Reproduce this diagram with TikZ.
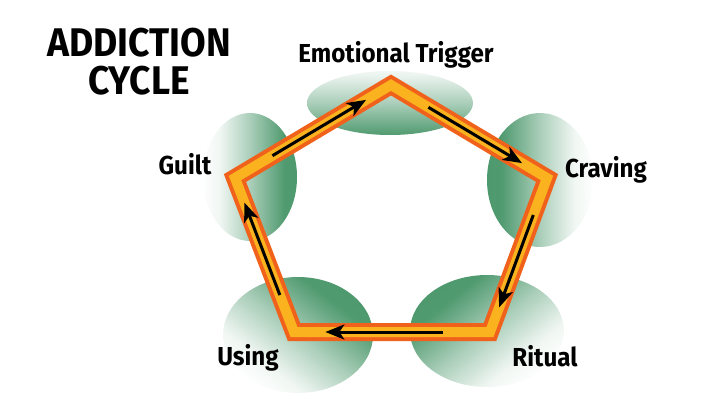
\documentclass[tikz,border=0pt]{standalone}
\usepackage{fontspec}
\setmainfont{Fira Sans}[FakeStretch=0.93]
\usetikzlibrary{arrows.meta,calc}
\definecolor{blobgreen}{RGB}{66,146,100}
\definecolor{bandorange}{RGB}{240,98,28}
\definecolor{bandyellow}{RGB}{250,178,30}
\pgfdeclareverticalshading{blobfade}{100bp}{color(0bp)=(blobgreen); color(25bp)=(blobgreen!92); color(50bp)=(blobgreen!45); color(72bp)=(blobgreen!10); color(84bp)=(white); color(100bp)=(white)}
\pgfdeclareverticalshading{blobfadetilt}{100bp}{color(0bp)=(blobgreen); color(32bp)=(blobgreen!92); color(50bp)=(blobgreen!45); color(66bp)=(blobgreen!8); color(76bp)=(white); color(100bp)=(white)}

\begin{document}
\begin{tikzpicture}[x=1pt,y=-1pt,
  blob/.style={shading=blobfadetilt,shading angle=#1},
  stagelabel/.style={font=\bfseries\fontsize{26}{30}\selectfont,anchor=base,inner sep=0},
  flow/.style={line width=3pt,-{Stealth[length=19pt,width=15pt,inset=5pt]}}]
\useasboundingbox (0,0) rectangle (720,405);
% corners of the cycle (centre line of the band)
\coordinate (A) at (391,85);
\coordinate (B) at (547,178);
\coordinate (C) at (490,332);
\coordinate (D) at (294,332);
\coordinate (E) at (235,178);
% green shadows behind the corners
\shade[shading=blobfade] (390,103) ellipse [x radius=83, y radius=32];
\shade[blob=270] (540,180) ellipse [x radius=53, y radius=67];
\shade[blob=219] (487,331) ellipse [x radius=77, y radius=56];
\shade[blob=142] (298,335) ellipse [x radius=75, y radius=58];
\shade[blob=90] (250,177) ellipse [x radius=47, y radius=64];
% the band
\draw[bandorange,line width=18pt,line join=miter] (A) -- (B) -- (C) -- (D) -- (E) -- cycle;
\draw[bandyellow,line width=10pt,line join=miter] (A) -- (B) -- (C) -- (D) -- (E) -- cycle;
% arrows
\foreach \p/\q in {E/A,A/B,B/C,C/D,D/E}
  \draw[flow] ($(\p)!0.24!(\q)$) -- ($(\p)!0.84!(\q)$);
% labels
\node[font=\bfseries\fontsize{40}{38}\selectfont,align=center,anchor=north,inner sep=0] (title) at (139,28) {ADDICTION\\CYCLE};
\node[stagelabel] (trigger) at (396,62) {Emotional Trigger};
\node[stagelabel] (craving) at (606,177) {Craving};
\node[stagelabel] (ritual) at (545,366) {Ritual};
\node[stagelabel] (using) at (248,365) {Using};
\node[stagelabel] (guilt) at (185,174) {Guilt};
\end{tikzpicture}
\end{document}
